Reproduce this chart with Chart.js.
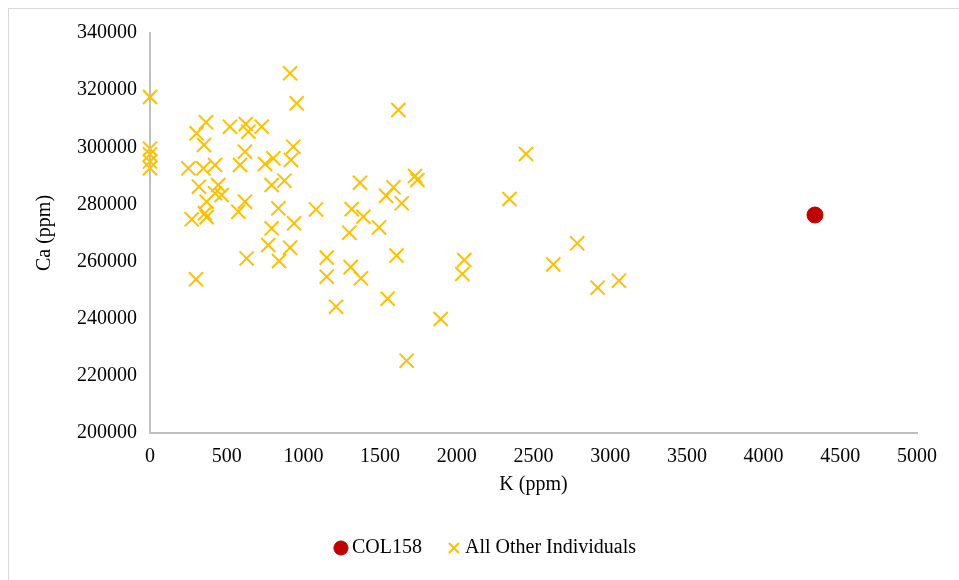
<!DOCTYPE html>
<html>
<head>
<meta charset="utf-8">
<script src="https://cdn.jsdelivr.net/npm/chart.js@4.4.1/dist/chart.umd.min.js"></script>
<style>
  html, body { margin: 0; padding: 0; background: #ffffff; }
  #wrap { position: relative; width: 959px; height: 580px; overflow: hidden; }
  #frame { position: absolute; left: 8px; top: 8px; width: 960px; height: 580px; border: 1px solid #d9d9d9; box-sizing: border-box; }
  canvas { position: absolute; left: 0; top: 0; }
</style>
</head>
<body>
<div id="wrap">
  <div id="frame"></div>
  <canvas id="chart" width="959" height="580"></canvas>
</div>
<script>
// K vs Ca concentrations (ppm)
const col158K = [4335];
const col158Ca = [276300];

const othersK = [
  0, 0, 0, 0, 0,
  250, 272, 300, 304, 319, 348, 352, 358, 365, 369, 369,
  424, 424, 445, 467, 521, 576, 587, 619, 619, 624, 630, 641,
  728, 750, 771, 793, 793, 804, 837, 841, 876, 913, 913, 919,
  934, 939, 956, 1082, 1152, 1152, 1213, 1299, 1308, 1315, 1369,
  1375, 1391, 1493, 1539, 1549, 1587, 1607, 1619, 1641, 1673,
  1728, 1743, 1895, 2036, 2049, 2343, 2451, 2629, 2785, 2918, 3057
];
const othersCa = [
  317600, 299500, 297500, 295000, 292700,
  292650, 274800, 253800, 304900, 286200, 292650, 300800, 276900, 308750, 280950, 275550,
  293800, 283900, 286800, 283300, 307200, 277450, 293800, 298450, 280950, 308150, 261100, 305450,
  307200, 294150, 265800, 286800, 271650, 296150, 278650, 260200, 288300, 325900, 264850, 295550,
  300200, 273400, 315400, 278250, 261400, 254700, 244200, 270100, 258050, 278350, 287600,
  254150, 275700, 271950, 283000, 247000, 286000, 262100, 313050, 280400, 225300,
  289950, 288550, 239900, 255650, 260550, 281900, 297650, 259000, 266400, 250850, 253300
];

const xTicks = [0, 500, 1000, 1500, 2000, 2500, 3000, 3500, 4000, 4500, 5000];
const yTicks = [200000, 220000, 240000, 260000, 280000, 300000, 320000, 340000];

const toPoints = (xs, ys) => xs.map((x, i) => ({ x: x, y: ys[i] }));

const FONT = { family: "'Liberation Serif', 'Times New Roman', serif", size: 20 };

new Chart(document.getElementById('chart'), {
  type: 'scatter',
  data: {
    datasets: [
      {
        label: 'COL158',
        data: toPoints(col158K, col158Ca),
        pointStyle: 'circle',
        pointRadius: 8,
        pointHoverRadius: 8,
        backgroundColor: '#C00000',
        borderColor: '#C00000',
        borderWidth: 1,
        clip: false
      },
      {
        label: 'All Other Individuals',
        data: toPoints(othersK, othersCa),
        pointStyle: 'crossRot',
        pointRadius: 10,
        pointHoverRadius: 10,
        backgroundColor: '#FFC000',
        borderColor: '#FFC000',
        borderWidth: 2,
        clip: false
      }
    ]
  },
  options: {
    responsive: false,
    animation: false,
    events: [],
    layout: { padding: { top: 33, right: 42, bottom: 12, left: 59 } },
    scales: {
      x: {
        type: 'linear',
        min: xTicks[0],
        max: xTicks[xTicks.length - 1],
        afterBuildTicks: s => { s.ticks = xTicks.map(v => ({ value: v })); },
        afterFit: s => { s.height = 74; },
        grid: { display: false, drawTicks: false },
        border: { display: true, color: '#bfbfbf', width: 2 },
        ticks: { color: '#000', font: FONT, padding: 12, maxRotation: 0, callback: v => String(v) },
        title: { display: true, text: 'K (ppm)', color: '#000', font: FONT, padding: { top: 0, bottom: 10 } }
      },
      y: {
        type: 'linear',
        min: yTicks[0],
        max: yTicks[yTicks.length - 1],
        afterBuildTicks: s => { s.ticks = yTicks.map(v => ({ value: v })); },
        afterFit: s => { s.width = 91; },
        grid: { display: false, drawTicks: false },
        border: { display: true, color: '#bfbfbf', width: 2 },
        ticks: { color: '#000', font: FONT, padding: 13, callback: v => String(v) },
        title: { display: true, text: 'Ca (ppm)', color: '#000', font: FONT, padding: { top: -26, bottom: 0 } }
      }
    },
    plugins: {
      legend: {
        display: true,
        position: 'bottom',
        labels: {
          usePointStyle: true,
          boxWidth: 2,
          boxHeight: 10,
          padding: 31,
          color: '#000',
          font: FONT
        }
      },
      tooltip: { enabled: false }
    }
  }
});
</script>
</body>
</html>
